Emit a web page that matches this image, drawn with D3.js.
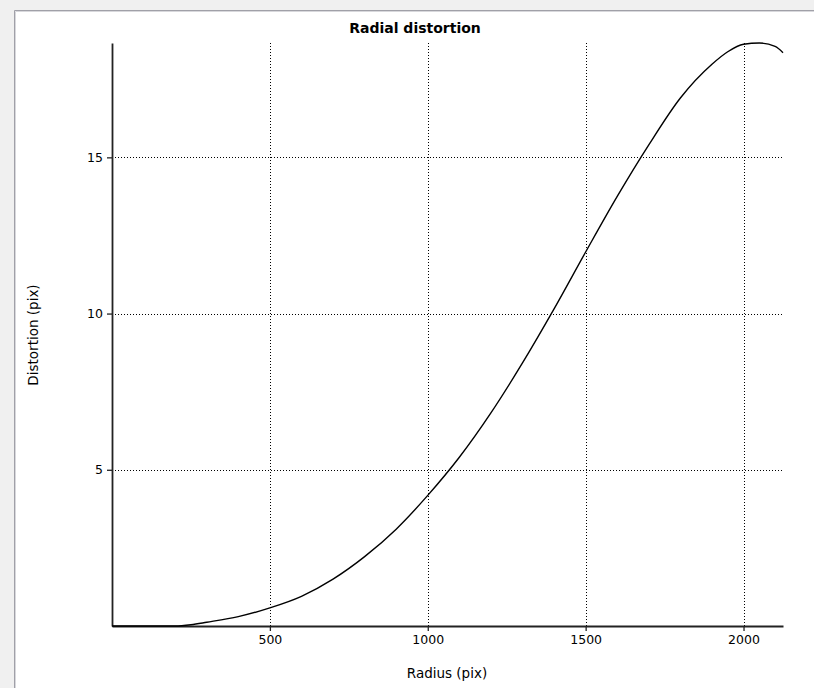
<!DOCTYPE html>
<html>
<head>
<meta charset="utf-8">
<script src="https://cdn.jsdelivr.net/npm/d3@7/dist/d3.min.js"></script>
<style>
  html, body { margin: 0; padding: 0; background: #f0f0f0; }
  svg { display: block; }
  text { font-family: "DejaVu Sans", Verdana, sans-serif; fill: #000; }
</style>
</head>
<body>
<svg id="chart" width="814" height="688"></svg>
<script>
// ---- data ----
const radius = [0, 100, 200, 250, 300, 400, 500, 600, 700, 800, 900, 1000, 1100, 1200, 1300, 1400, 1500, 1600, 1700, 1800, 1900, 1950, 2000, 2050, 2100, 2125];
const distortion = [0, 0.0, 0.0, 0.04, 0.12, 0.30, 0.58, 0.95, 1.50, 2.22, 3.10, 4.18, 5.40, 6.82, 8.42, 10.15, 11.97, 13.75, 15.40, 16.90, 17.98, 18.38, 18.62, 18.66, 18.55, 18.35];
const xTickValues = [500, 1000, 1500, 2000];
const yTickValues = [5, 10, 15];
const title = "Radial distortion";
const xTitle = "Radius (pix)";
const yTitle = "Distortion (pix)";

(function () {
const svg = d3.select("#chart");
const W = 814, H = 688;

// window frame
svg.append("rect").attr("x", 0).attr("y", 0).attr("width", W).attr("height", H).attr("fill", "#f0f0f0");
svg.append("rect").attr("x", 15).attr("y", 11).attr("width", W).attr("height", H).attr("fill", "#ffffff");
svg.append("line").attr("x1", 14.5).attr("x2", W).attr("y1", 10.5).attr("y2", 10.5).attr("stroke", "#a0a0a8");
svg.append("line").attr("x1", 14.5).attr("x2", 14.5).attr("y1", 10.5).attr("y2", H).attr("stroke", "#a0a0a8");
svg.append("line").attr("x1", 15.5).attr("x2", W).attr("y1", 11.5).attr("y2", 11.5).attr("stroke", "#d8d8dc");
svg.append("line").attr("x1", 15.5).attr("x2", 15.5).attr("y1", 11.5).attr("y2", H).attr("stroke", "#d8d8dc");

const mLeft = 112, mRight = 783, mTop = 43, mBottom = 626;
const data = radius.map((r, i) => ({ r, d: distortion[i] }));

const x = d3.scaleLinear().domain([0, d3.max(radius)]).range([mLeft, mRight]);
const y = d3.scaleLinear().domain([0, d3.max(distortion)]).range([mBottom, mTop]);

// grid lines
const grid = svg.append("g");
grid.selectAll("line.vg").data(xTickValues).join("line")
  .attr("x1", d => Math.round(x(d)) + 0.5).attr("x2", d => Math.round(x(d)) + 0.5)
  .attr("y1", mTop).attr("y2", mBottom)
  .attr("stroke", "#000").attr("stroke-width", 1).attr("stroke-dasharray", "1,2");
grid.selectAll("line.hg").data(yTickValues).join("line")
  .attr("x1", mLeft).attr("x2", mRight)
  .attr("y1", d => Math.round(y(d)) + 0.5).attr("y2", d => Math.round(y(d)) + 0.5)
  .attr("stroke", "#000").attr("stroke-width", 1).attr("stroke-dasharray", "1,2");

// axes
const fmt = d3.format("d");
const xAxis = d3.axisBottom(x).tickValues(xTickValues).tickFormat(fmt).tickSize(5).tickPadding(4).tickSizeOuter(0);
const yAxis = d3.axisLeft(y).tickValues(yTickValues).tickFormat(fmt).tickSize(5).tickPadding(4).tickSizeOuter(0);

const gx = svg.append("g").attr("transform", `translate(0,${mBottom})`).call(xAxis);
const gy = svg.append("g").attr("transform", `translate(${mLeft},0)`).call(yAxis);
[gx, gy].forEach(g => {
  g.select(".domain").attr("stroke", "#222").attr("stroke-width", 1.8);
  g.selectAll(".tick line").attr("stroke", "#222").attr("stroke-width", 1.3);
  g.selectAll(".tick text").attr("font-family", "DejaVu Sans, sans-serif").attr("font-size", 12.5).attr("fill", "#000");
});

// curve
svg.append("path").datum(data)
  .attr("fill", "none").attr("stroke", "#000").attr("stroke-width", 1.4)
  .attr("d", d3.line().x(d => x(d.r)).y(d => y(d.d)).curve(d3.curveMonotoneX));

// titles
svg.append("text").attr("x", 415).attr("y", 33).attr("text-anchor", "middle")
  .attr("font-size", 14).attr("font-weight", "bold").text(title);
svg.append("text").attr("x", 447).attr("y", 678).attr("text-anchor", "middle")
  .attr("font-size", 13.5).text(xTitle);
svg.append("text").attr("transform", "translate(38,335) rotate(-90)").attr("text-anchor", "middle")
  .attr("font-size", 13.5).text(yTitle);
})();
</script>
</body>
</html>
